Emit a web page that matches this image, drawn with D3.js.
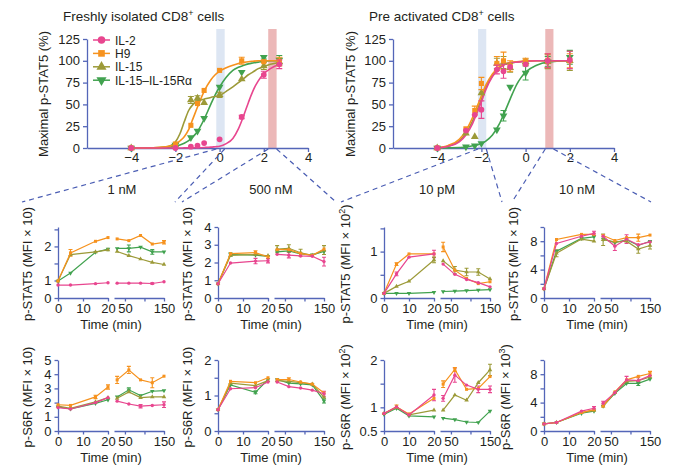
<!DOCTYPE html>
<html>
<head>
<meta charset="utf-8">
<script src="https://cdn.jsdelivr.net/npm/d3@7/dist/d3.min.js"></script>
<style>
body { margin: 0; background: #fff; }
</style>
</head>
<body>
<svg id="fig" width="674" height="469"></svg>
<script>
// ---- series ----
var series = ["IL-2", "H9", "IL-15", "IL-15\u2013IL-15R\u03b1"];
var colors = ["#e8468f", "#f6921e", "#9c9a38", "#41a24f"];

// ---- dose response, x = log10 dose ----
var freshDose = [-4, -2, -1.3, -1, -0.7, 0, 1, 2, 2.7];
var freshIL2 = [0, 0, 1.5, 2.6, 5.7, 10, 35.6, 84, 96];
var freshH9 = [0, 4.6, 26, 51, 66, 89, 100, 99, 99];
var freshIL15 = [0, 3.4, 55, 57, 52, 61, 79, 94, 99];
var freshRa = [0, 3.4, 12, 19.5, 34, 70, 87, 104, 101];
var freshErrIL2 = [0, 0, 0, 0, 0, 0, 2, 4, 5];
var freshErrH9 = [0, 0, 0, 0, 0, 0, 4, 0, 5];
var freshErrIL15 = [0, 0, 4, 3, 0, 3, 0, 4, 4];
var freshErrRa = [0, 0, 0, 0, 0, 0, 0, 2, 5];

var freshCurveX = [-4, -3, -2.5, -2.2, -2, -1.8, -1.6, -1.4, -1.2, -1, -0.7, -0.4, -0.2, 0, 0.3, 0.6, 0.85, 1.06, 1.3, 1.5, 1.75, 2, 2.3, 2.7];
var freshCurveIL2 = [0, 0, 0, 0, 0, 0, 0.1, 0.1, 0.2, 0.3, 0.6, 1, 1.5, 2, 5, 11, 22, 35, 52, 65, 77, 85, 91, 96];
var freshCurveH9 = [0, 0.3, 1, 2.5, 4, 8, 13, 21, 34, 47, 65, 78, 84, 88, 92, 95, 97, 98, 99, 99.5, 100, 100, 100, 100];
var freshCurveIL15 = [0, 0.2, 1, 3, 7, 16, 30, 43, 50, 54, 56, 58, 59, 60, 65, 70, 75, 79, 84, 87, 91, 93.5, 96, 98];
var freshCurveRa = [0, 0.1, 0.5, 1.2, 2, 3.5, 5.5, 8.5, 13, 19, 33, 50, 61, 70, 81, 89, 92.5, 94.5, 96.5, 97.5, 98.5, 99.5, 100, 100];

var preDose = [-4, -2.7, -2.3, -2, -1.3, -1, -0.7, 0, 1, 2];
var preIL2 = [0, 20, 38, 44, 90, 88, 93, 96, 100, 101];
var preH9 = [0, 22, 43, 74, 97, 100, 94, 99, 100, 100];
var preIL15 = [0, 17, 13, 63, 97, 98, 92, 99, 99, 100];
var preRa = [0, 1.5, 2.7, 5.3, 21, 37, 70, 86, 99, 104];
var preErrIL2 = [0, 0, 0, 10, 5, 8, 0, 0, 8, 10];
var preErrH9 = [0, 0, 5, 7, 8, 10, 6, 4, 8, 8];
var preErrIL15 = [0, 0, 0, 0, 6, 7, 5, 3, 8, 11];
var preErrRa = [0, 0, 0, 0, 0, 6, 0, 8, 6, 8];

var preCurveX = [-4, -3.5, -3, -2.7, -2.4, -2.2, -2, -1.8, -1.5, -1.2, -1, -0.8, -0.6, -0.4, -0.2, 0, 0.5, 1, 2];
var preCurveIL2 = [0, 2, 7, 15, 28, 40, 53, 67, 82, 91, 95, 97, 98, 98.5, 99, 99.5, 100, 100, 100];
var preCurveH9 = [0.5, 3, 10, 20, 35, 47, 60, 72, 85, 93, 96, 97.5, 98.5, 99, 99.5, 100, 100, 100, 100];
var preCurveIL15 = [0, 2, 8, 17, 31, 43, 56, 69, 83, 92, 95.5, 97, 98, 98.5, 99, 99.5, 100, 100, 100];
var preCurveRa = [0, 0.2, 0.5, 1, 2.5, 3.5, 5, 8, 15, 27, 38, 50, 62, 73, 81, 87, 95, 98.5, 100];

// shaded doses (log10 nM)
var freshBands = [[-0.15, 0.23], [2.2, 2.58]];
var preBands = [[-2.15, -1.78], [0.89, 1.26]];

// ---- time courses ----
var timeEarly = [0, 5, 15, 20];
var timeEarlyPM = [0, 5, 10, 20];
var timeLate = [30, 60, 90, 120, 150];
var panelTitles = ["1 nM", "500 nM", "10 pM", "10 nM"];

// values: series x [4 early, 5 late]; errors: [series, point, sem]
var stat5_1nM = [
  [0.74, 0.74, 0.82, 0.87, 0.85, 0.85, 0.85, 0.83, 0.93],
  [0.97, 1.81, 2.15, 2.26, 2.22, 2.17, 2.32, 2.07, 2.12],
  [0.97, 1.76, 1.84, 1.9, 1.85, 1.73, 1.63, 1.53, 1.47],
  [0.97, 1.22, 1.83, 1.92, 1.94, 1.94, 1.98, 1.84, 1.84]];
var stat5_1nM_err = [[1, 1, 0.1], [3, 5, 0.1], [3, 7, 0.07], [1, 8, 0.05], [0, 7, 0.04]];
var stat5_500nM = [
  [0.8, 1.97, 2.08, 2.1, 2.46, 2.41, 2.37, 2.35, 2.05],
  [0.8, 2.5, 2.56, 2.31, 2.72, 2.72, 2.5, 2.4, 2.76],
  [0.8, 2.4, 2.45, 2.38, 2.75, 2.8, 2.55, 2.4, 2.7],
  [0.8, 2.45, 2.42, 2.35, 2.6, 2.65, 2.48, 2.43, 2.62]];
var stat5_500nM_err = [[0, 2, 0.15], [0, 3, 0.12], [0, 5, 0.15], [0, 8, 0.25], [2, 4, 0.2], [2, 5, 0.2], [2, 6, 0.2], [2, 8, 0.25], [3, 1, 0.1], [1, 2, 0.1]];
var stat5_10pM = [
  [0.1, 0.52, 0.88, 0.95, 0.73, 0.51, 0.4, 0.33, 0.24],
  [0.1, 0.73, 0.95, 0.95, 1.1, 0.6, 0.42, 0.31, 0.35],
  [0.1, 0.25, 0.36, 0.82, 0.8, 0.6, 0.56, 0.56, 0.41],
  [0.1, 0.1, 0.1, 0.12, 0.14, 0.15, 0.16, 0.17, 0.18]];
var stat5_10pM_err = [[1, 4, 0.1], [0, 3, 0.08], [2, 3, 0.06], [2, 5, 0.08], [2, 6, 0.08], [2, 7, 0.07], [0, 1, 0.04], [1, 1, 0.03]];
var stat5_10nM = [
  [1.3, 7.67, 8.7, 9.1, 8.7, 7.3, 8.3, 7.5, 7.9],
  [1.3, 8.24, 8.96, 8.96, 8.8, 8.1, 8.5, 8.5, 8.86],
  [1.3, 6.3, 8.3, 8.0, 8.2, 7.9, 8.0, 6.9, 7.4],
  [1.3, 6.6, 8.4, 8.6, 8.3, 7.8, 8.2, 7.4, 8.0]];
var stat5_10nM_err = [[0, 5, 0.6], [0, 6, 0.6], [2, 7, 0.6], [2, 8, 0.5], [2, 4, 0.8], [1, 7, 0.5], [2, 1, 0.5], [0, 3, 0.3]];
var s6_1nM = [
  [1.65, 1.55, 2.0, 2.35, 2.1, 1.9, 1.75, 1.8, 1.85],
  [1.85, 1.8, 2.4, 3.1, 3.6, 4.3, 3.6, 3.4, 3.86],
  [1.75, 1.6, 2.05, 2.35, 2.3, 2.75, 2.35, 2.4, 2.4],
  [1.7, 1.55, 1.95, 2.2, 2.4, 2.9, 2.5, 2.8, 2.85]];
var s6_1nM_err = [[1, 4, 0.25], [1, 5, 0.25], [1, 7, 0.35], [3, 5, 0.15], [0, 6, 0.12], [1, 3, 0.15], [1, 2, 0.12], [0, 8, 0.2]];
var s6_500nM = [
  [0.6, 1.19, 1.22, 1.38, 1.38, 1.25, 1.21, 1.15, 1.05],
  [0.6, 1.4, 1.36, 1.5, 1.45, 1.45, 1.38, 1.32, 1.07],
  [0.6, 1.35, 1.28, 1.42, 1.42, 1.4, 1.36, 1.32, 0.95],
  [0.6, 1.3, 1.09, 1.45, 1.45, 1.35, 1.33, 1.3, 0.85]];
var s6_500nM_err = [[0, 8, 0.07], [3, 8, 0.06], [1, 5, 0.05], [3, 2, 0.04]];
var s6_10pM = [
  [0.87, 1.01, 0.84, 1.26, 1.19, 1.68, 1.47, 1.38, 1.38],
  [0.87, 1.01, 0.86, 1.19, 1.49, 1.8, 1.38, 1.4, 1.65],
  [0.87, 1.01, 0.84, 0.94, 0.94, 1.26, 1.15, 1.52, 1.79],
  [0.85, 0.98, 0.82, 0.8, 0.77, 0.74, 0.69, 0.68, 0.92]];
var s6_10pM_err = [[0, 3, 0.12], [0, 5, 0.15], [0, 7, 0.07], [0, 8, 0.07], [1, 4, 0.07], [2, 8, 0.12], [1, 5, 0.04], [0, 4, 0.06], [1, 1, 0.04]];
var s6_10nM = [
  [1.0, 1.2, 2.8, 3.2, 3.9, 5.4, 7.2, 7.1, 7.8],
  [1.0, 1.2, 2.6, 3.0, 3.5, 5.5, 7.2, 7.7, 8.1],
  [1.0, 1.2, 2.6, 2.9, 3.5, 5.4, 7.0, 7.1, 7.6],
  [1.0, 1.2, 2.5, 2.8, 3.5, 5.3, 6.7, 6.7, 7.3]];
var s6_10nM_err = [[0, 4, 0.3], [0, 6, 0.5], [0, 7, 0.4], [3, 7, 0.3], [1, 8, 0.3], [0, 3, 0.25]];

// ---- drawing ----
var svg = d3.select("#fig");
var FONT = "'Liberation Sans', Arial, Helvetica, sans-serif";
var AX = "#5466b8";
var INK = "#231f20";

function marker(g, i, x, y, size) {
  var type = [d3.symbolCircle, d3.symbolSquare, d3.symbolTriangle, d3.symbolTriangle][i];
  g.append("path")
    .attr("d", d3.symbol().type(type).size(size)())
    .attr("transform", "translate(" + x + "," + y + ")" + (i == 3 ? " rotate(180)" : ""))
    .attr("fill", colors[i]);
}

function errBar(g, color, gx, ylo, yhi, cap) {
  g.append("path").attr("d", "M" + gx + "," + ylo + "V" + yhi +
      "M" + (gx - cap) + "," + ylo + "h" + 2 * cap + "M" + (gx - cap) + "," + yhi + "h" + 2 * cap)
    .attr("stroke", color).attr("stroke-width", 1.1).attr("fill", "none");
}

function styleAxis(sel) {
  sel.attr("font-family", FONT).attr("font-size", 13);
  sel.select(".domain").attr("stroke", AX).attr("stroke-width", 1.3);
  sel.selectAll(".tick line").attr("stroke", AX).attr("stroke-width", 1.3);
  sel.selectAll(".tick text").attr("fill", INK);
}

function minus(d) { return d < 0 ? "\u2212" + (-d) : "" + d; }

function dosePanel(left, title, bands, dose, vals, errs, cx, curves, ylabX) {
  var x = d3.scaleLinear().domain([-6, 4]).range([left, left + 221]);
  var y = d3.scaleLinear().domain([0, 125]).range([148, 39]);
  var g = svg.append("g");

  g.append("rect").attr("x", x(bands[0][0])).attr("width", x(bands[0][1]) - x(bands[0][0]))
    .attr("y", 29).attr("height", y(0) - 29).attr("fill", "#dde6f3");
  g.append("rect").attr("x", x(bands[1][0])).attr("width", x(bands[1][1]) - x(bands[1][0]))
    .attr("y", 29).attr("height", y(0) - 29).attr("fill", "#ecb8b8");

  g.append("g").attr("transform", "translate(" + left + ",0)")
    .call(d3.axisLeft(y).tickValues([0, 25, 50, 75, 100, 125]).tickSize(4).tickSizeOuter(0).tickPadding(3))
    .call(styleAxis);
  g.append("g").attr("transform", "translate(0,148)")
    .call(d3.axisBottom(x).tickValues([-4, -2, 0, 2, 4]).tickFormat(minus).tickSize(4).tickSizeOuter(0).tickPadding(1))
    .call(styleAxis);

  var line = d3.line().x(function(d) { return x(d[0]); }).y(function(d) { return y(d[1]); }).curve(d3.curveMonotoneX);
  for (var s = 3; s >= 0; s--) {
    g.append("path").datum(d3.zip(cx, curves[s])).attr("d", line)
      .attr("fill", "none").attr("stroke", colors[s]).attr("stroke-width", 1.6);
  }
  for (var s = 3; s >= 0; s--) {
    dose.forEach(function(dv, k) {
      var e = errs[s][k];
      if (e > 0) errBar(g, colors[s], x(dv), y(vals[s][k] - e), y(vals[s][k] + e), 3);
      marker(g, s, x(dv), y(vals[s][k]), 26);
    });
  }

  var t = g.append("text").attr("x", left - 24).attr("y", 21).attr("font-family", FONT).attr("font-size", 13.5).attr("fill", INK);
  t.append("tspan").text(title);
  t.append("tspan").attr("dy", -5).attr("font-size", 9).text("+");
  t.append("tspan").attr("dy", 5).text(" cells");

  g.append("text").attr("transform", "translate(" + ylabX + ",94) rotate(-90)").attr("text-anchor", "middle")
    .attr("font-family", FONT).attr("font-size", 13).attr("fill", INK).text("Maximal p-STAT5 (%)");
  return x;
}

var xFresh = dosePanel(87, "Freshly isolated CD8", freshBands, freshDose,
  [freshIL2, freshH9, freshIL15, freshRa], [freshErrIL2, freshErrH9, freshErrIL15, freshErrRa],
  freshCurveX, [freshCurveIL2, freshCurveH9, freshCurveIL15, freshCurveRa], 48);
var xPre = dosePanel(393, "Pre activated CD8", preBands, preDose,
  [preIL2, preH9, preIL15, preRa], [preErrIL2, preErrH9, preErrIL15, preErrRa],
  preCurveX, [preCurveIL2, preCurveH9, preCurveIL15, preCurveRa], 355);

// legend
series.forEach(function(name, i) {
  var ly = 40 + i * 13.4;
  svg.append("line").attr("x1", 93).attr("x2", 110).attr("y1", ly).attr("y2", ly).attr("stroke", colors[i]).attr("stroke-width", 1.5);
  marker(svg, i, 101.5, ly, 44);
  svg.append("text").attr("x", 115).attr("y", ly + 4.5).attr("font-family", FONT).attr("font-size", 12).attr("fill", INK)
    .style("font-size", "12px").text(name);
});

// time panels
var colLeft = [58, 218, 384, 544];

function timePanel(col, bottom, top, yDom, yTicks, yLabels, early, vals, errs, ylab, sup) {
  var left = colLeft[col];
  var xa = d3.scaleLinear().domain([0, 20]).range([left, left + 50]);
  var xb = d3.scaleLinear().domain([22, 150]).range([left + 56, left + 106]);
  var yr = yDom.length == 3 ? [bottom, bottom - 17.5, top] : [bottom, top];
  var y = d3.scaleLinear().domain(yDom).range(yr);
  var g = svg.append("g");

  g.append("g").attr("transform", "translate(" + left + ",0)")
    .call(d3.axisLeft(y).tickValues(yTicks).tickFormat(function(d) { return yLabels.indexOf(d) >= 0 ? d : ""; })
      .tickSize(3.5).tickSizeOuter(0).tickPadding(3))
    .call(styleAxis);
  g.append("g").attr("transform", "translate(0," + bottom + ")")
    .call(d3.axisBottom(xa).tickValues([0, 10, 20]).tickSize(3.5).tickSizeOuter(0).tickPadding(2))
    .call(styleAxis);
  g.append("g").attr("transform", "translate(0," + bottom + ")")
    .call(d3.axisBottom(xb).tickValues([50, 100, 150]).tickFormat(function(d) { return d == 100 ? "" : d; })
      .tickSize(3.5).tickSizeOuter(0).tickPadding(2))
    .call(styleAxis);

  var pos = function(k) { return k < 4 ? xa(early[k]) : xb(timeLate[k - 4]); };
  errs.forEach(function(e) {
    var v = vals[e[0]][e[1]];
    errBar(g, colors[e[0]], pos(e[1]), y(v - e[2]), y(v + e[2]), 2);
  });

  var la = d3.line().x(function(d) { return xa(d[0]); }).y(function(d) { return y(d[1]); });
  var lb = d3.line().x(function(d) { return xb(d[0]); }).y(function(d) { return y(d[1]); });
  for (var s = 3; s >= 0; s--) {
    var a = d3.zip(early, vals[s].slice(0, 4));
    var b = d3.zip(timeLate, vals[s].slice(4));
    g.append("path").datum(a).attr("d", la).attr("fill", "none").attr("stroke", colors[s]).attr("stroke-width", 1.2);
    g.append("path").datum(b).attr("d", lb).attr("fill", "none").attr("stroke", colors[s]).attr("stroke-width", 1.2);
    a.forEach(function(p) { marker(g, s, xa(p[0]), y(p[1]), 9); });
    b.forEach(function(p) { marker(g, s, xb(p[0]), y(p[1]), 9); });
  }

  var lx = left - 26 - (sup ? 8 : 0);
  var t = g.append("text").attr("transform", "translate(" + lx + "," + (bottom - 34) + ") rotate(-90)")
    .attr("text-anchor", "middle").attr("font-family", FONT).attr("font-size", 13).attr("fill", INK);
  t.append("tspan").text(ylab);
  if (sup) {
    t.append("tspan").attr("dy", -5).attr("font-size", 9).text(sup);
    t.append("tspan").attr("dy", 5).text(")");
  } else {
    t.append("tspan").text(")");
  }
  g.append("text").attr("x", left + 53).attr("y", bottom + 31).attr("text-anchor", "middle")
    .attr("font-family", FONT).attr("font-size", 13).attr("fill", INK).text("Time (min)");
}

timePanel(0, 298, 227, [0, 1, 2.57], [0, 1, 1.5, 2, 2.5], [0, 1, 2], timeEarly, stat5_1nM, stat5_1nM_err, "p-STAT5 (MFI \u00d7 10", null);
timePanel(1, 298, 227, [0, 4], [0, 1, 2, 3, 4], [0, 1, 2, 3, 4], timeEarly, stat5_500nM, stat5_500nM_err, "p-STAT5 (MFI \u00d7 10", null);
timePanel(2, 298, 227, [0, 1.53], [0, 0.5, 1, 1.5], [0, 1], timeEarlyPM, stat5_10pM, stat5_10pM_err, "p-STAT5 (MFI \u00d7 10", "2");
timePanel(3, 298, 227, [0, 10], [0, 2, 4, 6, 8, 10], [0, 4, 8], timeEarly, stat5_10nM, stat5_10nM_err, "p-STAT5 (MFI \u00d7 10", null);
timePanel(0, 431, 360, [0, 5], [0, 1, 2, 3, 4, 5], [0, 1, 2, 3, 4, 5], timeEarly, s6_1nM, s6_1nM_err, "p-S6R (MFI \u00d7 10", null);
timePanel(1, 431, 360, [0, 2], [0, 0.5, 1, 1.5, 2], [0, 1, 2], timeEarly, s6_500nM, s6_500nM_err, "p-S6R (MFI \u00d7 10", null);
timePanel(2, 431, 360, [0.5, 2], [0.5, 1, 1.5, 2], [0.5, 1, 2], timeEarlyPM, s6_10pM, s6_10pM_err, "p-S6R (MFI \u00d7 10", "2");
timePanel(3, 431, 360, [0, 10], [0, 2, 4, 6, 8, 10], [0, 4, 8], timeEarly, s6_10nM, s6_10nM_err, "p-S6R (MFI \u00d7 10", "3");

// column titles + dashed connectors
var colBand = [[xFresh, freshBands[0]], [xFresh, freshBands[1]], [xPre, preBands[0]], [xPre, preBands[1]]];
var connEnds = [[22, 175], [182, 336], [341, 502], [512, 651]];
panelTitles.forEach(function(name, c) {
  svg.append("text").attr("x", colLeft[c] + 53 + (c == 0 ? 11 : c == 3 ? -20 : 0)).attr("y", 194).attr("text-anchor", "middle")
    .attr("font-family", FONT).attr("font-size", 13).attr("fill", INK).text(name);
  var sc = colBand[c][0], band = colBand[c][1];
  [0, 1].forEach(function(k) {
    svg.append("line").attr("x1", sc(band[k])).attr("y1", 149).attr("x2", connEnds[c][k]).attr("y2", 202)
      .attr("stroke", "#4a5db3").attr("stroke-width", 1.2).attr("stroke-dasharray", "5,4");
  });
});
</script>
</body>
</html>
